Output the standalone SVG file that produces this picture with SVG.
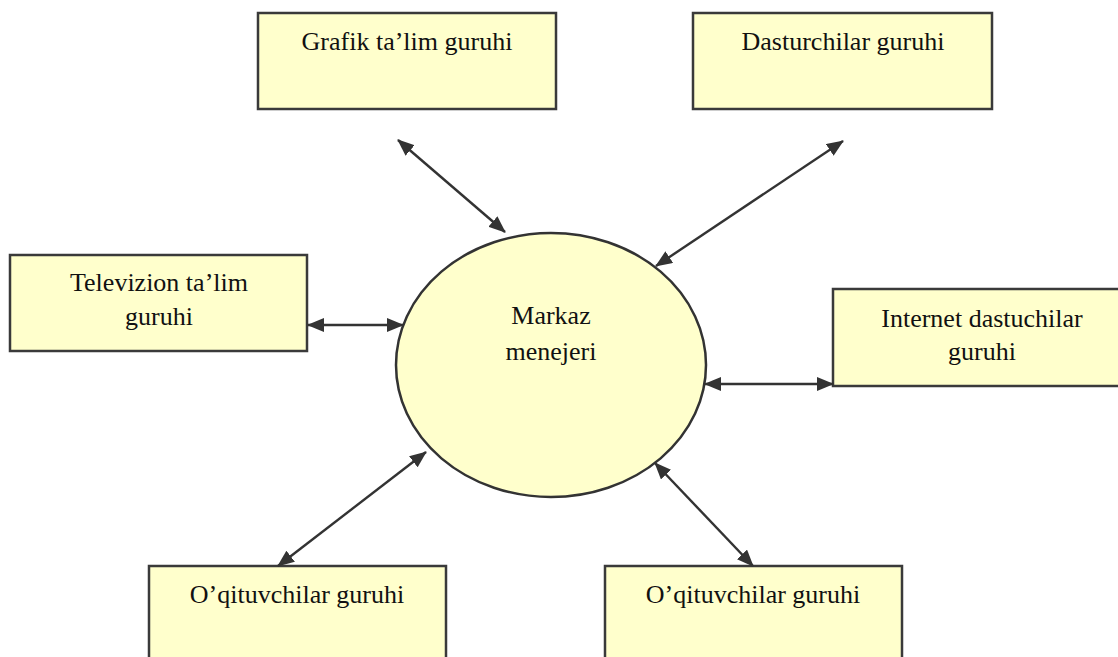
<svg xmlns="http://www.w3.org/2000/svg" width="1118" height="657" viewBox="0 0 1118 657">
<style>
.box{fill:#FFFFCC;stroke:#3a3a3a;stroke-width:2.5}
.t{font-family:"Liberation Serif","Times New Roman",serif;font-size:26px;fill:#111;text-anchor:middle}
.c{stroke:#333;stroke-width:2.4;fill:none;marker-start:url(#a);marker-end:url(#a)}
</style>
<defs>
<marker id="a" viewBox="0 0 17 14" refX="16" refY="7" markerWidth="17" markerHeight="14" markerUnits="userSpaceOnUse" orient="auto-start-reverse">
<path d="M0,0 L17,7 L0,14 z" fill="#333"/>
</marker>
</defs>
<rect width="1118" height="657" fill="#fff"/>
<g id="n-grafik"><rect class="box" x="258" y="13" width="298" height="96"/><text class="t" x="407" y="50">Grafik ta’lim guruhi</text></g>
<g id="n-dasturchilar"><rect class="box" x="693" y="13" width="299" height="96"/><text class="t" x="843" y="50">Dasturchilar guruhi</text></g>
<g id="n-televizion"><rect class="box" x="10" y="255" width="297" height="96"/><text class="t" x="159" y="291">Televizion ta’lim</text><text class="t" x="159" y="325">guruhi</text></g>
<g id="n-internet"><rect class="box" x="833" y="289" width="290" height="97"/><text class="t" x="982" y="327">Internet dastuchilar</text><text class="t" x="982" y="360">guruhi</text></g>
<g id="n-markaz"><ellipse cx="551" cy="365" rx="155" ry="132" fill="#FFFFCC" stroke="#333" stroke-width="2.5"/><text class="t" x="551" y="324">Markaz</text><text class="t" x="551" y="360">menejeri</text></g>
<g id="n-oqit1"><rect class="box" x="149" y="566" width="297" height="100"/><text class="t" x="297" y="603">O’qituvchilar guruhi</text></g>
<g id="n-oqit2"><rect class="box" x="605" y="566" width="297" height="100"/><text class="t" x="753" y="603">O’qituvchilar guruhi</text></g>
<g id="connectors">
<line class="c" x1="398" y1="140" x2="505" y2="232"/>
<line class="c" x1="843" y1="141" x2="656" y2="266"/>
<line class="c" x1="308" y1="325" x2="403" y2="325"/>
<line class="c" x1="705" y1="384" x2="833" y2="384"/>
<line class="c" x1="426" y1="452" x2="278" y2="566"/>
<line class="c" x1="655" y1="463" x2="753" y2="566"/>
</g>
</svg>
